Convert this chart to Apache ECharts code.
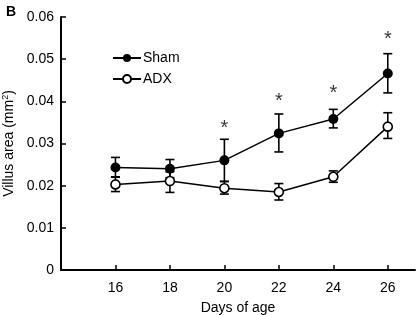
<!DOCTYPE html>
<html>
<head>
<meta charset="utf-8">
<script src="https://cdn.jsdelivr.net/npm/echarts@6/dist/echarts.min.js"></script>
<style>
  html, body { margin: 0; padding: 0; background: #fff; }
  #chart { width: 416px; height: 315px; }
</style>
</head>
<body>
<div id="chart"></div>
<script>
// ---- data
const days = [16, 18, 20, 22, 24, 26];
const yTicks = [0, 0.01, 0.02, 0.03, 0.04, 0.05, 0.06];

const shamMean = [0.0243, 0.0240, 0.0260, 0.0324, 0.0358, 0.0466];
const shamHigh = [0.0267, 0.0262, 0.0310, 0.0370, 0.0381, 0.0513];
const shamLow  = [0.0221, 0.0219, 0.0210, 0.0280, 0.0337, 0.0420];

const adxMean = [0.0203, 0.0211, 0.0194, 0.0185, 0.0221, 0.0340];
const adxHigh = [0.0220, 0.0233, 0.0210, 0.0205, 0.0235, 0.0373];
const adxLow  = [0.0186, 0.0184, 0.0180, 0.0166, 0.0208, 0.0312];

// significance asterisks (day, y)
const starDays = [20, 22, 24, 26];
const starY    = [0.0335, 0.0400, 0.0418, 0.0546];

const FONT = 'Liberation Sans, Arial, sans-serif';

function pairs(xs, ys) {
    return xs.map(function (x, i) { return [x, ys[i]]; });
}

function errBars(low, high) {
    return days.map(function (d, i) { return [d, low[i], high[i]]; });
}

function renderErr(params, api) {
    let x = api.value(0);
    let lo = api.coord([x, api.value(1)]);
    let hi = api.coord([x, api.value(2)]);
    let w = 4.5;
    let style = { stroke: '#000', lineWidth: 1.6 };
    return {
        type: 'group',
        children: [
            { type: 'line', shape: { x1: hi[0], y1: hi[1], x2: lo[0], y2: lo[1] }, style: style },
            { type: 'line', shape: { x1: hi[0] - w, y1: hi[1], x2: hi[0] + w, y2: hi[1] }, style: style },
            { type: 'line', shape: { x1: lo[0] - w, y1: lo[1], x2: lo[0] + w, y2: lo[1] }, style: style }
        ]
    };
}

var chart = echarts.init(document.getElementById('chart'));
var option = {
    animation: false,
    title: {
        text: 'B',
        left: 1,
        top: 0,
        textStyle: { fontFamily: FONT, fontSize: 14, fontWeight: 'bold', color: '#000' }
    },
    legend: {
        orient: 'vertical',
        left: 107,
        top: 46,
        itemWidth: 28,
        itemHeight: 10,
        itemGap: 7,
        data: ['Sham', 'ADX'],
        textStyle: { fontFamily: FONT, fontSize: 14, color: '#000', padding: [0, 0, 0, -3] }
    },
    grid: { left: 61, right: 1, top: 17, bottom: 45, outerBoundsMode: 'none', containLabel: false },
    xAxis: {
        type: 'value',
        min: 14,
        max: 27,
        name: 'Days of age',
        nameLocation: 'middle',
        nameGap: 31,
        nameTextStyle: { fontFamily: FONT, fontSize: 14, color: '#000' },
        axisLine: { lineStyle: { color: '#000', width: 2 } },
        axisTick: { inside: true, length: 5, lineStyle: { color: '#000', width: 1.5 }, customValues: days },
        axisLabel: { fontFamily: FONT, fontSize: 14, color: '#000', margin: 11, customValues: days },
        splitLine: { show: false }
    },
    yAxis: {
        type: 'value',
        min: 0,
        max: 0.06,
        interval: 0.01,
        name: '{n|Villus area (mm}{s|2}{n|)}',
        nameLocation: 'middle',
        nameGap: 41,
        nameTextStyle: {
            rich: {
                n: { fontFamily: FONT, fontSize: 14, color: '#000' },
                s: { fontFamily: FONT, fontSize: 9, color: '#000', verticalAlign: 'top', padding: [0, 0, 7, 0] }
            }
        },
        axisLine: { show: true, lineStyle: { color: '#000', width: 2 } },
        axisTick: { show: true, inside: true, length: 5, lineStyle: { color: '#000', width: 1.5 } },
        axisLabel: {
            fontFamily: FONT, fontSize: 14, color: '#000', margin: 7,
            formatter: function (v) { return v === 0 ? '0' : v.toFixed(2); }
        },
        splitLine: { show: false }
    },
    series: [{
        name: 'ShamErr',
        type: 'custom',
        renderItem: renderErr,
        data: errBars(shamLow, shamHigh),
        z: 1,
        silent: true
    }, {
        name: 'ADXErr',
        type: 'custom',
        renderItem: renderErr,
        data: errBars(adxLow, adxHigh),
        z: 1,
        silent: true
    }, {
        name: 'Sham',
        type: 'line',
        data: pairs(days, shamMean),
        symbol: 'circle',
        symbolSize: 10,
        lineStyle: { color: '#000', width: 1.5 },
        itemStyle: { color: '#000', borderColor: '#000', borderWidth: 0 },
        z: 3
    }, {
        name: 'ADX',
        type: 'line',
        data: pairs(days, adxMean),
        symbol: 'circle',
        symbolSize: 9,
        lineStyle: { color: '#000', width: 1.5 },
        itemStyle: { color: '#fff', borderColor: '#000', borderWidth: 1.6 },
        z: 3
    }, {
        name: 'stars',
        type: 'scatter',
        data: pairs(starDays, starY),
        symbol: 'circle',
        symbolSize: 1,
        itemStyle: { color: 'rgba(0,0,0,0)' },
        label: {
            show: true,
            position: 'inside',
            formatter: '*',
            fontFamily: FONT,
            fontSize: 20,
            color: '#000'
        },
        z: 4,
        silent: true
    }]
};
chart.setOption(option);
</script>
</body>
</html>
